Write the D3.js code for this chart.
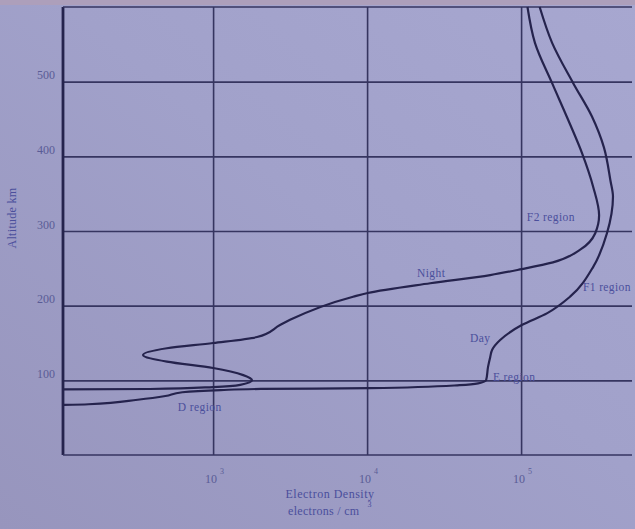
<!DOCTYPE html>
<html>
<head>
<meta charset="utf-8">
<script src="https://cdn.jsdelivr.net/npm/d3@7"></script>
<style>
  html, body { margin: 0; padding: 0; background: #9e9ec6; }
  svg { display: block; }
  text { font-family: "Liberation Serif", "DejaVu Serif", serif; }
</style>
</head>
<body>
<svg id="chart" width="635" height="529"></svg>
<script>
// Electron density profiles of the ionosphere (electrons / cm^3 vs altitude in km)

// Daytime profile: D region, E region, F1 ledge, F2 peak
const dayAltitude = [67, 68, 74, 79, 84, 87, 88.5, 89.5, 93.5, 96, 100.5, 118, 131, 141, 154, 174, 190, 212, 252, 297, 346, 368, 412, 453, 498, 552, 600];
const dayDensity  = [107, 155, 324, 490, 631, 1120, 2040, 10500, 39800, 52600, 59300, 61000, 63000, 64900, 73100, 101000, 148000, 208000, 294000, 361000, 395000, 380000, 345000, 289000, 218000, 159000, 132000];

// Night-time profile: weak E layer, valley, F2 peak
const nightAltitude = [88, 88.4, 91, 94, 100, 107, 116.5, 125, 134, 143, 150, 158, 174, 181, 212, 217, 230, 241, 249, 258, 275, 297, 321, 360, 404, 449, 498, 552, 600];
const nightDensity  = [107, 389, 1000, 1500, 1790, 1570, 1000, 501, 351, 501, 1000, 1930, 2720, 3160, 8110, 10100, 25700, 63000, 101000, 161000, 242000, 303000, 321000, 293000, 249000, 202000, 159000, 123000, 110000];

// Axis ticks
const densityTicks  = [1e3, 1e4, 1e5];
const densityTickExp = ["3", "4", "5"];
const altitudeTicks = [100, 200, 300, 400, 500];

// Region annotations
const regionLabels = [
  { text: "Night",     density: 2.11e4, altitude: 238 },
  { text: "F2 region", density: 1.09e5, altitude: 313 },
  { text: "F1 region", density: 2.52e5, altitude: 220 },
  { text: "Day",       density: 4.66e4, altitude: 151 },
  { text: "E region",  density: 6.56e4, altitude: 99 },
  { text: "D region",  density: 590,    altitude: 59 }
];

const W = 635, H = 529;
const plotLeft = 63, plotRight = 632, plotTop = 7, plotBottom = 455;

const svg = d3.select("#chart");

// paper background with a slight uneven tint
const defs = svg.append("defs");
const grad = defs.append("linearGradient").attr("id", "paper")
  .attr("x1", "0").attr("y1", "1").attr("x2", "1").attr("y2", "0");
grad.append("stop").attr("offset", "0").attr("stop-color", "#9795bd");
grad.append("stop").attr("offset", "0.55").attr("stop-color", "#a1a1ca");
grad.append("stop").attr("offset", "1").attr("stop-color", "#a7a7d0");
svg.append("rect").attr("width", W).attr("height", H).attr("fill", "url(#paper)");
svg.append("rect").attr("width", W).attr("height", 5).attr("fill", "#ad9fbb");

const x = d3.scaleLog().domain([106, 525000]).range([plotLeft, plotRight]);
const y = d3.scaleLinear().domain([0, 600]).range([plotBottom, plotTop]);

const gridColor = "#363560";
const inkColor = "#25234d";
const textColor = "#4b4f9c";
const tickTextColor = "#5a5c96";

// horizontal grid + altitude labels
const yAxis = svg.append("g").attr("transform", `translate(${plotLeft},0)`)
  .call(d3.axisLeft(y).tickValues(altitudeTicks).tickSize(-(plotRight - plotLeft)).tickPadding(8));
yAxis.select(".domain").remove();
yAxis.selectAll(".tick line").attr("stroke", gridColor).attr("stroke-width", 1.6);
yAxis.selectAll(".tick text")
  .attr("fill", tickTextColor).attr("font-size", 12).attr("dy", "-0.25em")
  .style("font-family", "'Liberation Serif', serif");

// vertical grid
const xAxis = svg.append("g").attr("transform", `translate(0,${plotBottom})`)
  .call(d3.axisBottom(x).tickValues(densityTicks).tickSize(-(plotBottom - plotTop)).tickFormat(""));
xAxis.select(".domain").remove();
xAxis.selectAll(".tick line").attr("stroke", gridColor).attr("stroke-width", 1.6);

// density tick labels as powers of ten
densityTicks.forEach((t, i) => {
  const lbl = svg.append("text")
    .attr("x", x(t) - 8).attr("y", 483)
    .attr("fill", tickTextColor).attr("font-size", 12);
  lbl.append("tspan").text("10");
  lbl.append("tspan").attr("dy", -9).attr("dx", 3).attr("font-size", 8).text(densityTickExp[i]);
});

// frame: left axis, top and bottom rules
svg.append("line").attr("x1", plotLeft).attr("x2", plotLeft).attr("y1", plotTop).attr("y2", plotBottom)
  .attr("stroke", inkColor).attr("stroke-width", 2.8);
svg.append("line").attr("x1", plotLeft).attr("x2", plotRight).attr("y1", y(600)).attr("y2", y(600))
  .attr("stroke", gridColor).attr("stroke-width", 1.6);
svg.append("line").attr("x1", plotLeft).attr("x2", plotRight).attr("y1", plotBottom).attr("y2", plotBottom)
  .attr("stroke", gridColor).attr("stroke-width", 1.6);

// profiles: density traced as a smooth function of altitude
const line = d3.line()
  .x(d => x(d[0]))
  .y(d => y(d[1]))
  .curve(d3.curveMonotoneY);

const topDown = (dens, alt) =>
  dens.map((d, i) => [d, alt[i]]).sort((a, b) => b[1] - a[1]);

svg.append("path").datum(topDown(dayDensity, dayAltitude)).attr("d", line)
  .attr("fill", "none").attr("stroke", inkColor).attr("stroke-width", 2.2);
svg.append("path").datum(topDown(nightDensity, nightAltitude)).attr("d", line)
  .attr("fill", "none").attr("stroke", inkColor).attr("stroke-width", 2.2);

// region annotations
svg.selectAll("text.region").data(regionLabels).enter().append("text")
  .attr("class", "region")
  .attr("x", d => x(d.density)).attr("y", d => y(d.altitude))
  .attr("fill", textColor).attr("font-size", 11.5).attr("letter-spacing", 0.4)
  .text(d => d.text);

// axis titles
svg.append("text")
  .attr("transform", "translate(16,218) rotate(-90)")
  .attr("text-anchor", "middle")
  .attr("fill", textColor).attr("font-size", 12).attr("letter-spacing", 0.3)
  .text("Altitude km");

svg.append("text")
  .attr("x", 330).attr("y", 498)
  .attr("text-anchor", "middle")
  .attr("fill", textColor).attr("font-size", 12).attr("letter-spacing", 0.5)
  .text("Electron Density");

const unit = svg.append("text")
  .attr("x", 288).attr("y", 515)
  .attr("fill", textColor).attr("font-size", 12).attr("letter-spacing", 0.3);
unit.append("tspan").text("electrons / cm");
unit.append("tspan").attr("dy", -8).attr("dx", 8).attr("font-size", 8).text("3");
</script>
</body>
</html>
